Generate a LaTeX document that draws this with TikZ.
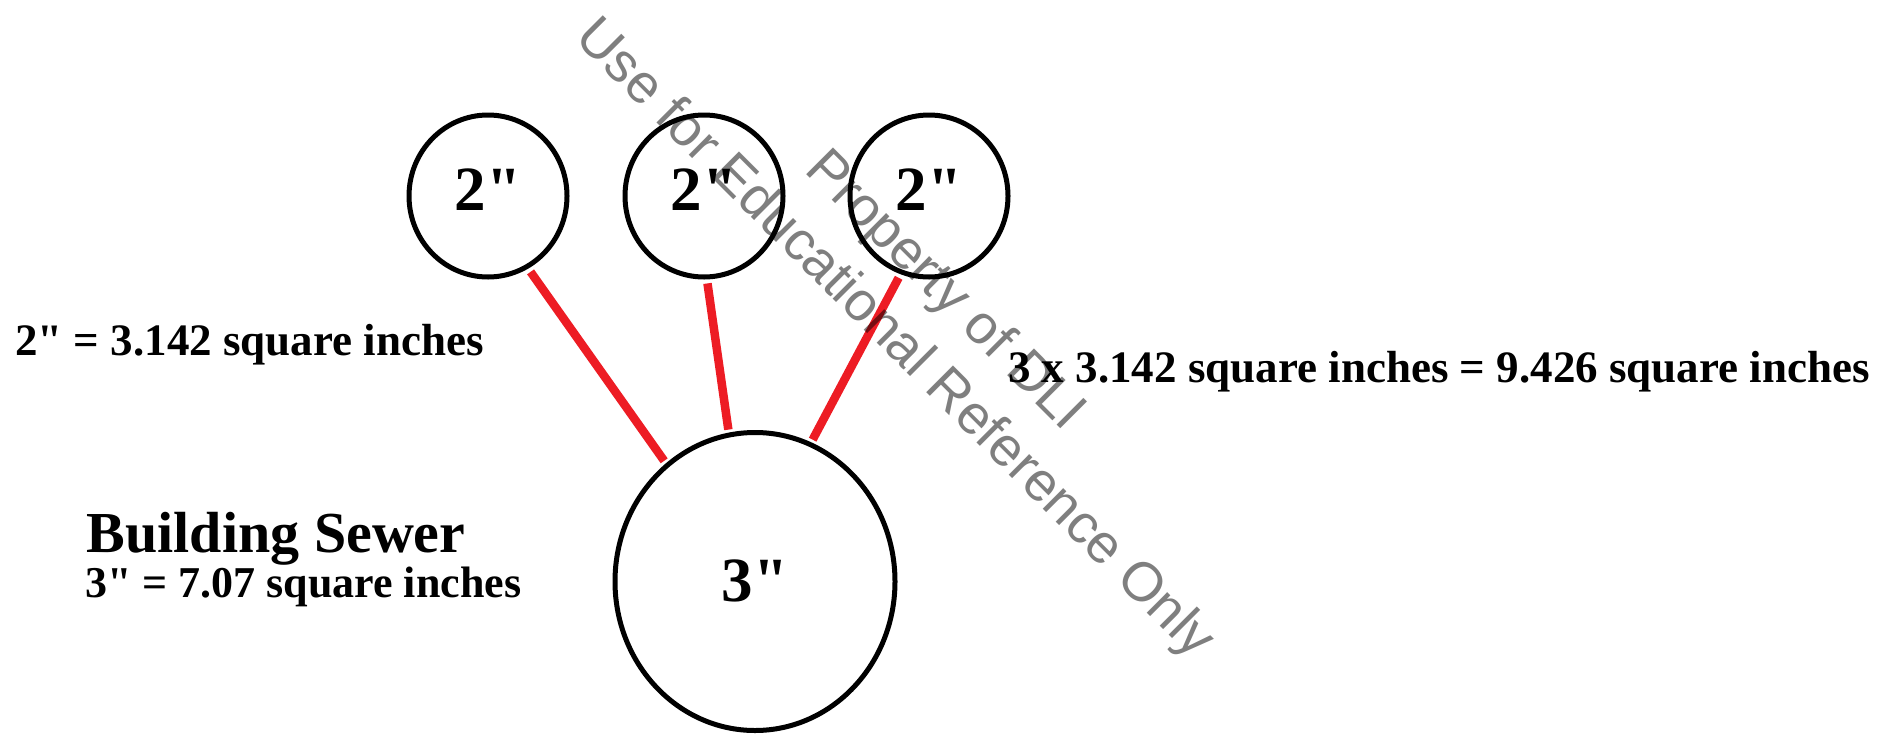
\documentclass[tikz,border=0pt]{standalone}
\usepackage{fontspec}
\setmainfont{Liberation Serif}[Ligatures=TeXOff]
\newfontfamily\stampfont{Liberation Sans}
\usetikzlibrary{shapes.geometric, positioning}
\definecolor{ink}{HTML}{000000}
\definecolor{pipered}{HTML}{ED1C24}
\tikzset{
  branch/.style = {ellipse, draw=ink, line width=5pt, minimum width=158pt,
                   minimum height=162pt, inner sep=0pt, text depth=12pt,
                   font=\fontsize{63}{63}\selectfont\bfseries},
  sewer/.style  = {ellipse, draw=ink, line width=5pt, minimum width=280pt,
                   minimum height=298pt, inner sep=0pt, text depth=2pt,
                   font=\fontsize{63}{63}\selectfont\bfseries},
  link/.style   = {draw=pipered, line width=8.5pt, shorten <=4pt, shorten >=3pt},
  note/.style   = {anchor=base west, inner sep=0pt, font=\fontsize{45}{45}\selectfont\bfseries},
  title/.style  = {anchor=base west, inner sep=0pt, font=\fontsize{58}{58}\selectfont\bfseries},
  stamp/.style  = {anchor=base, rotate=-45, inner sep=0pt, text=black, text opacity=0.5,
                   font=\stampfont\fontsize{55}{55}\selectfont},
}
\begin{document}
\begin{tikzpicture}[x=1pt, y=-1pt]
  \useasboundingbox (0,0) rectangle (1895,734);
  \node[branch] (b1) at (488,196) {2"};
  \node[branch, right=53pt of b1] (b2) {2"};
  \node[branch, right=62pt of b2] (b3) {2"};
  \node[sewer] (main) at (755,581.5) {3"};
  \draw[link] (b1.-61) -- (main.127);
  \draw[link] (b2.-88) -- (main.100);
  \draw[link] (b3.-110) -- (main.68);
  \node[note] (branchsize) at (15,355) {2" = 3.142 square inches};
  \node[title] (sewername) at (86.5,552) {Building Sewer};
  \node[note, font=\fontsize{44}{44}\selectfont\bfseries] (sewersize) at (85,597) {3" = 7.07 square inches};
  \node[note] (total) at (1008,382) {3 x 3.142 square inches = 9.426 square inches};
  \node[stamp] (stampuse) at (884,350) {Use for Educational Reference Only};
  \node[stamp] (stampdli) at (934,302) {Property of DLI};
\end{tikzpicture}
\end{document}
